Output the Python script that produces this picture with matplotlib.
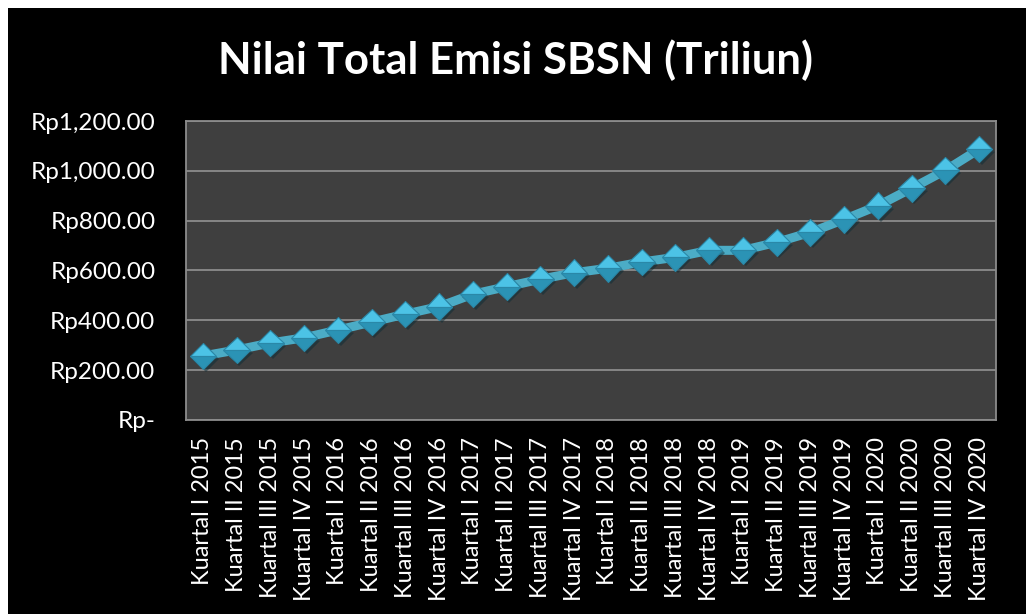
import matplotlib.pyplot as plt
from matplotlib.patches import Rectangle
import matplotlib.patheffects as pe

plt.rcParams['font.family'] = ['Lato', 'DejaVu Sans']

# Data: total emisi SBSN per kuartal (triliun rupiah)
quarters = ['Kuartal I', 'Kuartal II', 'Kuartal III', 'Kuartal IV']
years = [2015, 2016, 2017, 2018, 2019, 2020]
labels = [f'{q} {y}' for y in years for q in quarters]
values = [257, 281, 309, 330, 361, 393, 425, 455,
          505, 535, 565, 591, 609, 634, 653, 681,
          681, 713, 753, 805, 860, 930, 1002, 1087]
yticks = [0, 200, 400, 600, 800, 1000, 1200]
ytick_labels = ['Rp-', 'Rp200.00', 'Rp400.00', 'Rp600.00',
                'Rp800.00', 'Rp1,000.00', 'Rp1,200.00']

fig = plt.figure(figsize=(10.26, 6.14), dpi=100, facecolor='white')
# black chart background with a thin white margin top/left
fig.patches.append(Rectangle((8 / 1026, 0), 1, 1 - 8 / 614,
                             transform=fig.transFigure, facecolor='black',
                             edgecolor='none', zorder=-10))

ax = fig.add_axes([0.1813, 0.316, 0.7895, 0.4869])
ax.set_facecolor('#3f3f3f')

x = range(len(values))
ax.plot(x, values, color='#4bacc6', lw=6.5, solid_capstyle='butt', zorder=3)
ax.plot(x, values, linestyle='none', marker='D', markersize=13.5,
        fillstyle='top', markerfacecolor='#4cc3e6',
        markerfacecoloralt='#2b93b5', markeredgecolor='#2a88a8',
        markeredgewidth=0.8, zorder=4,
        path_effects=[pe.SimplePatchShadow(offset=(2, -2), alpha=0.5),
                      pe.Normal()])

ax.set_xlim(-0.5, len(values) - 0.5)
ax.set_ylim(0, 1200)
ax.set_yticks(yticks)
ax.set_yticklabels(ytick_labels)
ax.set_xticks(list(x))
ax.set_xticklabels(labels, rotation=90, va='top', ha='center')
ax.grid(axis='y', color='#8c8c8c', lw=1.3)
ax.set_axisbelow(True)
ax.tick_params(axis='both', length=0, colors='white')
ax.tick_params(axis='y', pad=22, labelsize=17.5)
ax.tick_params(axis='x', pad=12.5, labelsize=17)
for s in ax.spines.values():
    s.set_color('#8c8c8c')
    s.set_linewidth(1.3)

fig.text(0.502, 0.902, 'Nilai Total Emisi SBSN (Triliun)', color='white',
         fontsize=31.5, fontweight='bold', ha='center', va='center')

fig.savefig('out.png', dpi=100, facecolor=fig.get_facecolor())
